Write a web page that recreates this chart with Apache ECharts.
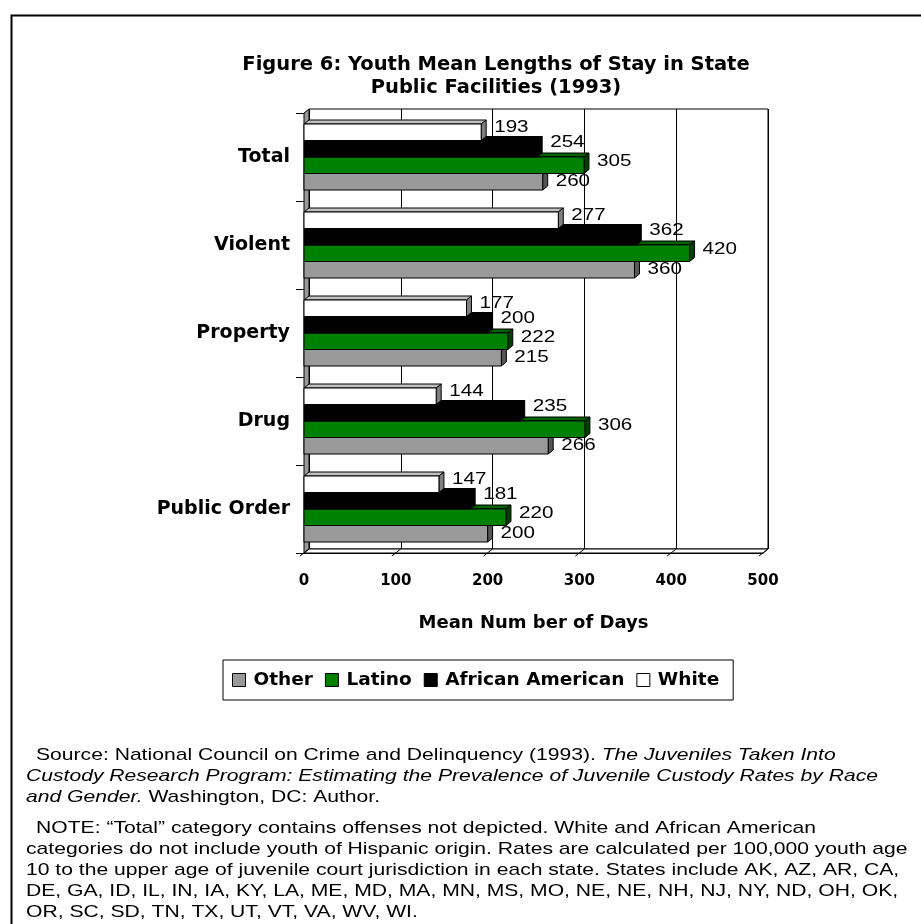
<!DOCTYPE html>
<html><head><meta charset="utf-8">
<script src="https://cdn.jsdelivr.net/npm/echarts@6/dist/echarts.min.js"></script>
<style>html,body{margin:0;padding:0;background:#fff}#c{width:921px;height:924px}</style>
</head><body><div id="c"></div>
<script>
// ---- data ----
const categories = ['Total', 'Violent', 'Property', 'Drug', 'Public Order'];
const xTicks = [0, 100, 200, 300, 400, 500];
const white = [193, 277, 177, 144, 147];
const africanAmerican = [254, 362, 200, 235, 181];
const latino = [305, 420, 222, 306, 220];
const other = [260, 360, 215, 266, 200];

// ---- style ----
const DX = 5, DY = 4;
const BOLD = '"DejaVu Sans"';
const NOTE_FONT = '"Liberation Sans", Arial, sans-serif';
const NOTE_SIZE = 17;
const NOTE_SCALE = 1.242;

function toData(vals) { return vals.map((v, i) => [v, i]); }

function barRenderer(slot, color, topColor, sideColor, labelDy) {
  return function (params, api) {
    const cat = api.value(1);
    const val = api.value(0);
    const p0 = api.coord([0, cat]);
    const p1 = api.coord([val, cat]);
    const band = api.size([0, 1])[1];
    const h = band * 0.75 / 4;
    const yTop = p0[1] - band * 0.375 + slot * h;
    const x0 = p0[0], x1 = p1[0];
    return {
      type: 'group',
      children: [
        { type: 'polygon', shape: { points: [[x0, yTop], [x0 + DX, yTop - DY], [x1 + DX, yTop - DY], [x1, yTop]] },
          style: { fill: topColor, stroke: '#000', lineWidth: 1 } },
        { type: 'polygon', shape: { points: [[x1, yTop], [x1 + DX, yTop - DY], [x1 + DX, yTop + h - DY], [x1, yTop + h]] },
          style: { fill: sideColor, stroke: '#000', lineWidth: 1 } },
        { type: 'rect', shape: { x: x0, y: yTop, width: x1 - x0, height: h },
          style: { fill: color, stroke: '#000', lineWidth: 1 } },
        { type: 'text', x: x1 + 13, y: yTop + h / 2 + labelDy, scaleX: 1.25, z2: 20,
          style: { text: String(val), fill: '#000', fontSize: 16.5, fontFamily: '"Liberation Sans", Arial', align: 'left', verticalAlign: 'middle' } }
      ]
    };
  };
}

const seriesDefs = [
  { name: 'Other', values: other, slot: 3, color: '#999999', top: '#7a7a7a', side: '#555555', z: 3, dy: 0 },
  { name: 'Latino', values: latino, slot: 2, color: '#008000', top: '#006000', side: '#004000', z: 4, dy: -4 },
  { name: 'African American', values: africanAmerican, slot: 1, color: '#000000', top: '#000000', side: '#000000', z: 5, dy: -6 },
  { name: 'White', values: white, slot: 0, color: '#ffffff', top: '#c0c0c0', side: '#808080', z: 6, dy: -5 }
];

const frameSeries = {
  type: 'custom', name: 'frame', xAxisIndex: 0, yAxisIndex: 0, data: [[0, 0]], silent: true, clip: false, z: 2,
  renderItem: function (params, api) {
    const cs = params.coordSys;
    const L = cs.x, T = cs.y, B = cs.y + cs.height, R = cs.x + cs.width;
    const children = [
      { type: 'polygon', shape: { points: [[L, T], [L + DX, T - DY], [L + DX, B - DY], [L, B]] },
        style: { fill: '#999999', stroke: '#000', lineWidth: 1 } },
      { type: 'polygon', shape: { points: [[L, B], [L + DX, B - DY], [R + DX, B - DY], [R, B]] },
        style: { fill: '#ffffff', stroke: '#000', lineWidth: 1 } }
    ];
    xTicks.forEach(function (v) {
      const x = api.coord([v, 0])[0];
      children.push({ type: 'line', shape: { x1: x + DX, y1: B - DY, x2: x - 4, y2: B + 3 },
        style: { stroke: '#000', lineWidth: 1 } });
    });
    return { type: 'group', children: children };
  }
};

const series = [frameSeries].concat(seriesDefs.map(function (d) {
  return {
    type: 'custom', name: d.name, xAxisIndex: 0, yAxisIndex: 0, clip: false, z: d.z,
    itemStyle: { color: d.color, borderColor: '#000', borderWidth: 1 },
    encode: { x: 0, y: 1 },
    data: toData(d.values),
    renderItem: barRenderer(d.slot, d.color, d.top, d.side, d.dy)
  };
}));

function noteLine(x, y, text, rich) {
  const st = { text: text, fill: '#000', verticalAlign: 'middle', font: NOTE_SIZE + 'px ' + NOTE_FONT };
  if (rich) st.rich = rich;
  return { type: 'text', x: x, y: y, scaleX: NOTE_SCALE, silent: true, style: st };
}
const noteRich = {
  n: { font: NOTE_SIZE + 'px ' + NOTE_FONT, fill: '#000' },
  i: { font: 'italic ' + NOTE_SIZE + 'px ' + NOTE_FONT, fill: '#000' }
};

const chart = echarts.init(document.getElementById('c'), null, { renderer: 'canvas' });
chart.setOption({
  animation: false,
  backgroundColor: '#ffffff',
  title: {
    text: 'Figure 6: Youth Mean Lengths of Stay in State\nPublic Facilities (1993)',
    left: 496, top: 53, textAlign: 'center', padding: 0,
    textStyle: { fontFamily: BOLD, fontWeight: 'bold', fontSize: 19.5, lineHeight: 23, color: '#000' }
  },
  grid: [
    { left: 304, top: 113, width: 459, height: 440, show: false, containLabel: false },
    { left: 304 + DX, top: 113 - DY, width: 459, height: 440, show: true, borderColor: '#000', borderWidth: 1, backgroundColor: '#fff' }
  ],
  xAxis: [
    { type: 'value', gridIndex: 0, min: 0, max: 500, interval: 100,
      name: 'Mean Num ber of Days', nameLocation: 'middle', nameGap: 61,
      nameTextStyle: { fontFamily: BOLD, fontWeight: 'bold', fontSize: 18, color: '#000' },
      axisLine: { show: true, lineStyle: { color: '#000', width: 1 } },
      axisTick: { show: false },
      splitLine: { show: false },
      axisLabel: { margin: 21, fontFamily: BOLD, fontWeight: 'bold', fontSize: 15, color: '#000' } },
    { type: 'value', gridIndex: 1, min: 0, max: 500, interval: 100,
      axisLine: { show: false }, axisTick: { show: false }, axisLabel: { show: false },
      splitLine: { show: true, lineStyle: { color: '#000', width: 1 } } }
  ],
  yAxis: [
    { type: 'category', gridIndex: 0, data: categories, inverse: true,
      axisLine: { show: true, lineStyle: { color: '#000', width: 1 } },
      axisTick: { show: true, length: 8, lineStyle: { color: '#000' } },
      axisLabel: { margin: 14, fontFamily: BOLD, fontWeight: 'bold', fontSize: 19, color: '#000' } },
    { type: 'category', gridIndex: 1, data: categories, inverse: true, show: false }
  ],
  legend: {
    data: ['Other', 'Latino', 'African American', 'White'],
    left: 223, top: 660, orient: 'horizontal',
    padding: [10, 14, 10, 9], itemGap: 12, itemWidth: 13, itemHeight: 13, icon: 'rect',
    borderColor: '#000', borderWidth: 1,
    itemStyle: { borderColor: '#000', borderWidth: 1 },
    textStyle: { fontFamily: BOLD, fontWeight: 'bold', fontSize: 18.5, lineHeight: 20, color: '#000', padding: [0, 0, 0, 3] }
  },
  graphic: [
    { type: 'rect', left: 9, top: 13, silent: true, shape: { x: 0, y: 0, width: 1000, height: 1000 },
      style: { fill: 'none', stroke: '#000', lineWidth: 2 } },
    noteLine(36, 755, '{n|Source: National Council on Crime and Delinquency (1993). }{i|The Juveniles Taken Into}', noteRich),
    noteLine(26, 776, '{i|Custody Research Program: Estimating the Prevalence of Juvenile Custody Rates by Race}', noteRich),
    noteLine(26, 797, '{i|and Gender.}{n| Washington, DC: Author.}', noteRich),
    noteLine(36, 828, 'NOTE: \u201cTotal\u201d category contains offenses not depicted. White and African American'),
    noteLine(26, 849, 'categories do not include youth of Hispanic origin. Rates are calculated per 100,000 youth age'),
    noteLine(26, 870, '10 to the upper age of juvenile court jurisdiction in each state. States include AK, AZ, AR, CA,'),
    noteLine(26, 891, 'DE, GA, ID, IL, IN, IA, KY, LA, ME, MD, MA, MN, MS, MO, NE, NE, NH, NJ, NY, ND, OH, OK,'),
    noteLine(26, 912, 'OR, SC, SD, TN, TX, UT, VT, VA, WV, WI.')
  ],
  series: series
});
</script></body></html>
